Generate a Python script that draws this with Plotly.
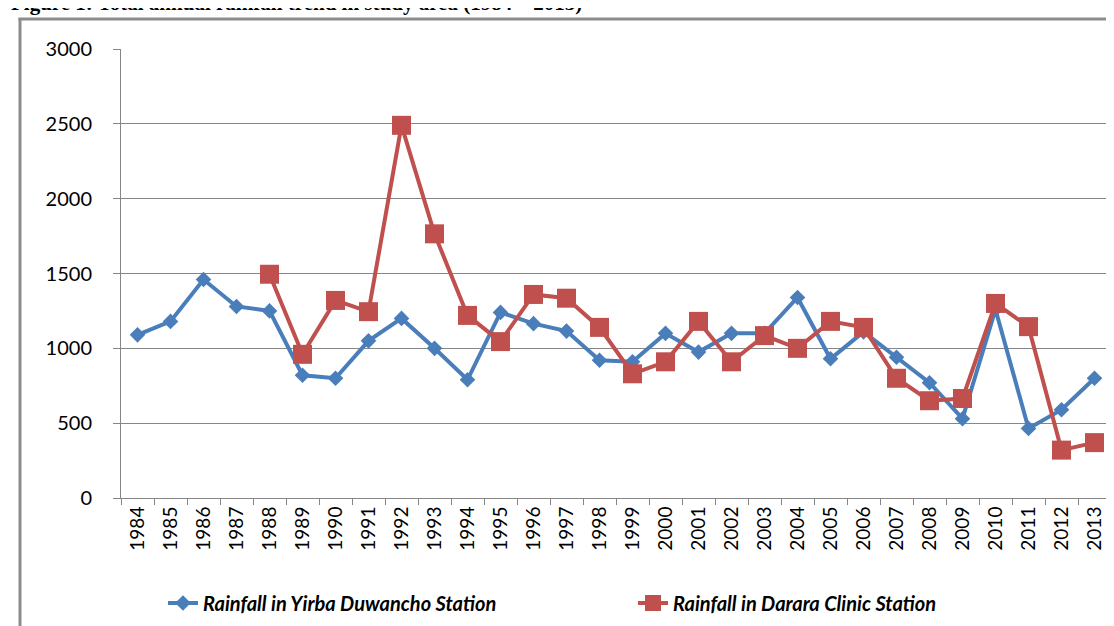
import plotly.graph_objects as go

years = [str(y) for y in range(1984, 2014)]
yirba = [1090, 1180, 1460, 1280, 1250, 820, 800, 1050, 1200, 1000,
         790, 1240, 1165, 1115, 920, 910, 1100, 975, 1100, 1100,
         1340, 930, 1110, 940, 770, 530, 1260, 465, 590, 800]
darara = [None, None, None, None, 1495, 960, 1320, 1245, 2490, 1765,
          1220, 1045, 1360, 1335, 1140, 830, 910, 1180, 910, 1085,
          1000, 1180, 1140, 800, 650, 665, 1300, 1145, 320, 370]
y_ticks = [0, 500, 1000, 1500, 2000, 2500, 3000]

BLUE = "#4A7EBB"
RED = "#C0504D"
GRID = "#868686"

W, H = 1114, 626
L, R, T, B = 113, 1103, 41, 490


def px(x):
    return (x - L) / (R - L)


def py(y):
    return (B - y) / (B - T)


fig = go.Figure()
fig.add_trace(go.Scatter(
    x=years, y=yirba, mode="lines+markers",
    name="Rainfall in Yirba Duwancho Station",
    line=dict(color=BLUE, width=4),
    marker=dict(symbol="diamond", size=12, color=BLUE),
))
fig.add_trace(go.Scatter(
    x=years, y=darara, mode="lines+markers",
    name="Rainfall in Darara Clinic Station",
    line=dict(color=RED, width=4),
    marker=dict(symbol="square", size=19, color=RED),
))

fig.update_layout(
    width=W, height=H,
    margin=dict(l=L, r=W - R, t=T, b=H - B, pad=0),
    paper_bgcolor="white", plot_bgcolor="white",
    showlegend=True,
    legend=dict(
        orientation="h", x=px(155), xanchor="left", y=py(595), yanchor="middle",
        font=dict(family="Lato", size=20, color="black", style="italic", weight="bold"),
        entrywidth=425, entrywidthmode="pixels",
        bgcolor="rgba(0,0,0,0)",
    ),
    xaxis=dict(
        type="category", tickson="boundaries", ticks="outside", ticklen=6,
        tickcolor=GRID, showline=True, linecolor=GRID, linewidth=1,
        showgrid=False, tickangle=-90,
        tickfont=dict(family="Lato", size=19, color="black"),
        range=[-0.5, len(years) - 0.5], fixedrange=True,
    ),
    yaxis=dict(
        range=[0, 3000], tickvals=y_ticks, ticks="outside", ticklen=7,
        tickcolor=GRID, showline=True, linecolor=GRID, linewidth=1,
        showgrid=True, gridcolor=GRID, gridwidth=1, zeroline=False,
        tickfont=dict(family="Lato", size=20, color="black"),
        ticklabelstandoff=17,
    ),
    annotations=[dict(
        text="<b>Figure 1: Total annual rainfall trend in study area (1984 – 2013)</b>",
        xref="paper", yref="paper", x=px(1), y=py(9), xanchor="left", yanchor="bottom",
        showarrow=False, font=dict(family="Liberation Serif", size=21, color="black"),
    )],
    shapes=[
        dict(type="line", xref="paper", yref="paper", x0=px(12), x1=px(12),
             y0=py(10), y1=py(640), line=dict(color="#8C8C8C", width=3)),
        dict(type="line", xref="paper", yref="paper", x0=px(10.5), x1=px(1130),
             y0=py(11), y1=py(11), line=dict(color="#8C8C8C", width=3)),
    ],
)

fig.write_html("out.html")
